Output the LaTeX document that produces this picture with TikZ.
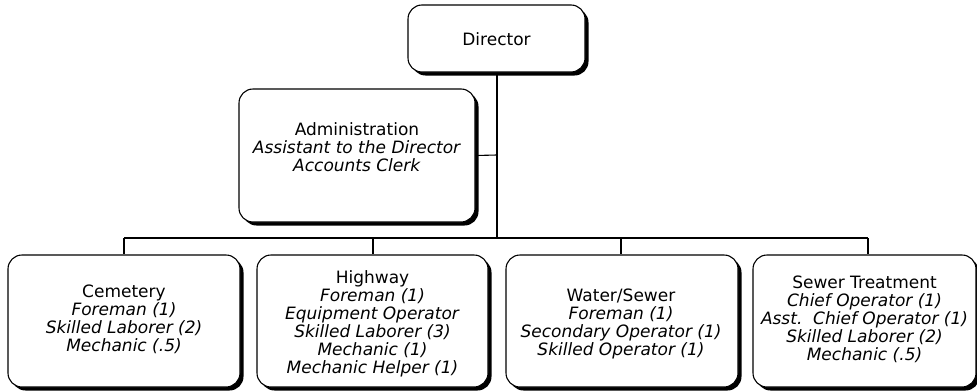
\documentclass[tikz,border=0pt]{standalone}
\usepackage{fontspec}
\setmainfont{DejaVu Sans}
\usetikzlibrary{shadows}
\tikzset{
  orgbox/.style={draw=black, line width=1.1pt, rounded corners=14pt, fill=white,
    drop shadow={shadow xshift=3.5pt, shadow yshift=-3.5pt, fill=black, opacity=1},
    inner sep=0pt, anchor=center},
  orgtext/.style={align=center, inner sep=0pt, font=\fontsize{17}{18}\selectfont},
  conn/.style={draw=black, line width=1.1pt}
}
\begin{document}
\begin{tikzpicture}[x=1pt,y=1pt]
\useasboundingbox (0,0) rectangle (977,-391);
% coordinates for the bus
\coordinate (busL) at (124,-238);
\coordinate (busR) at (868,-238);
\coordinate (busM) at (497,-238);
\coordinate (admJ) at (497,-155);
\coordinate (b1) at (124,-238);
\coordinate (b2) at (373,-238);
\coordinate (b3) at (621,-238);
\coordinate (b4) at (868,-238);
% boxes
\node[orgbox, minimum width=177pt, minimum height=67pt] (dir) at (496.5,-38.5) {};
\node[orgbox, minimum width=236pt, minimum height=133pt] (adm) at (357,-155.5) {};
\node[orgbox, minimum width=232pt, minimum height=132pt] (cem) at (124,-321) {};
\node[orgbox, minimum width=231pt, minimum height=132pt] (hwy) at (372.5,-321) {};
\node[orgbox, minimum width=232pt, minimum height=132pt] (ws) at (622,-321) {};
\node[orgbox, minimum width=223pt, minimum height=132pt] (st) at (864.5,-321) {};
% connectors
\draw[conn] (dir.south -| busM) -- (busM);
\draw[conn] (adm.east) -- (admJ);
\draw[conn] (busL) -- (busR);
\draw[conn] (b1) -- (b1 |- cem.north);
\draw[conn] (b2) -- (b2 |- hwy.north);
\draw[conn] (b3) -- (b3 |- ws.north);
\draw[conn] (b4) -- (b4 |- st.north);
% texts
\node[orgtext] (dirt) at ([yshift=-1pt]dir.center) {Director};
\node[orgtext] (admt) at ([yshift=8pt]adm.center) {Administration\\\textit{Assistant to the Director}\\\textit{Accounts Clerk}};
\node[orgtext] (cemt) at ([yshift=2pt]cem.center) {Cemetery\\\textit{Foreman (1)}\\\textit{Skilled Laborer (2)}\\\textit{Mechanic (.5)}};
\node[orgtext] (hwyt) at ([yshift=-3pt]hwy.center) {Highway\\\textit{Foreman (1)}\\\textit{Equipment Operator}\\\textit{Skilled Laborer (3)}\\\textit{Mechanic (1)}\\\textit{Mechanic Helper (1)}};
\node[orgtext] (wst) at ([xshift=-1pt,yshift=-3pt]ws.center) {Water/Sewer\\\textit{Foreman (1)}\\\textit{Secondary Operator (1)}\\\textit{Skilled Operator (1)}};
\node[orgtext] (stt) at ([xshift=0pt,yshift=2pt]st.center) {Sewer Treatment\\\textit{Chief Operator (1)}\\\textit{Asst.\ \ Chief Operator (1)}\\\textit{Skilled Laborer (2)}\\\textit{Mechanic (.5)}};
\end{tikzpicture}
\end{document}
